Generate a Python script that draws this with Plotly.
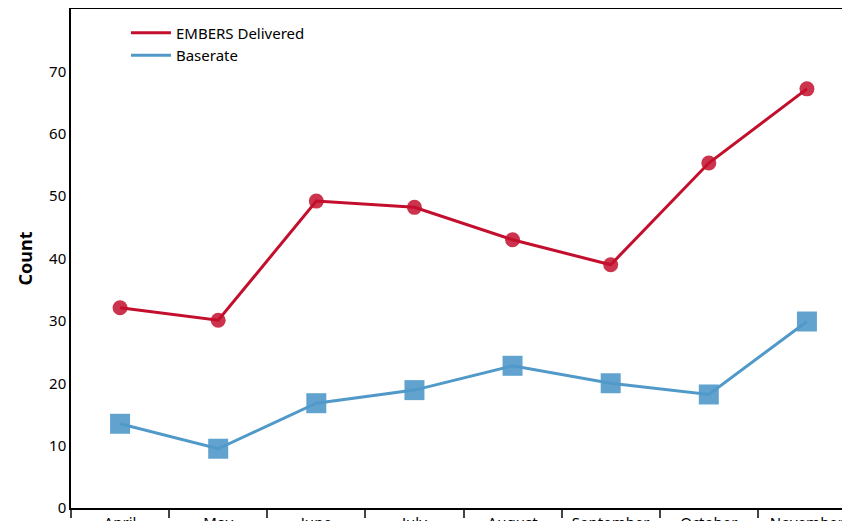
import plotly.graph_objects as go

months = ['April', 'May', 'June', 'July', 'August', 'September', 'October', 'November']
embers = [32.1, 30.1, 49.2, 48.2, 43.0, 39.0, 55.3, 67.2]
baserate = [13.5, 9.5, 16.8, 18.9, 22.8, 20.0, 18.2, 29.9]

red = '#c30f2d'
blue = '#5099c9'

fig = go.Figure()
fig.add_trace(go.Scatter(x=months, y=embers, mode='lines+markers', showlegend=False,
                         line=dict(color=red, width=3),
                         marker=dict(symbol='circle', size=15, color=red, opacity=0.85)))
fig.add_trace(go.Scatter(x=months, y=baserate, mode='lines+markers', showlegend=False,
                         line=dict(color=blue, width=3),
                         marker=dict(symbol='square', size=20, color=blue, opacity=0.9)))
# line-only legend entries
fig.add_trace(go.Scatter(x=[None], y=[None], mode='lines', name='EMBERS Delivered',
                         line=dict(color=red, width=3)))
fig.add_trace(go.Scatter(x=[None], y=[None], mode='lines', name='Baserate',
                         line=dict(color=blue, width=3)))

fig.update_layout(
    width=850, height=521,
    margin=dict(l=63, r=2, t=1, b=21, autoexpand=False),
    plot_bgcolor='white', paper_bgcolor='white',
    font=dict(family='Noto Sans', size=15, color='black'),
    legend=dict(x=0.07, y=0.985, xanchor='left', yanchor='top',
                bgcolor='rgba(0,0,0,0)', font=dict(size=15), tracegroupgap=22,
                traceorder='normal', itemwidth=40),
)
fig.update_xaxes(showgrid=False, showline=True, linecolor='black', linewidth=1.5, mirror=True,
                 ticks='outside', tickson='boundaries', ticklen=8, tickwidth=1.5,
                 tickfont=dict(size=15), range=[-0.5, 7.5], automargin=False)
fig.update_yaxes(showgrid=False, showline=True, linecolor='black', linewidth=1.5, mirror=True,
                 range=[0, 80], tickvals=[0, 10, 20, 30, 40, 50, 60, 70],
                 ticks='', zeroline=False, tickfont=dict(size=15), automargin=False,
                 title=dict(text='<b>Count</b>', font=dict(size=18), standoff=12))

fig.write_html("out.html")
